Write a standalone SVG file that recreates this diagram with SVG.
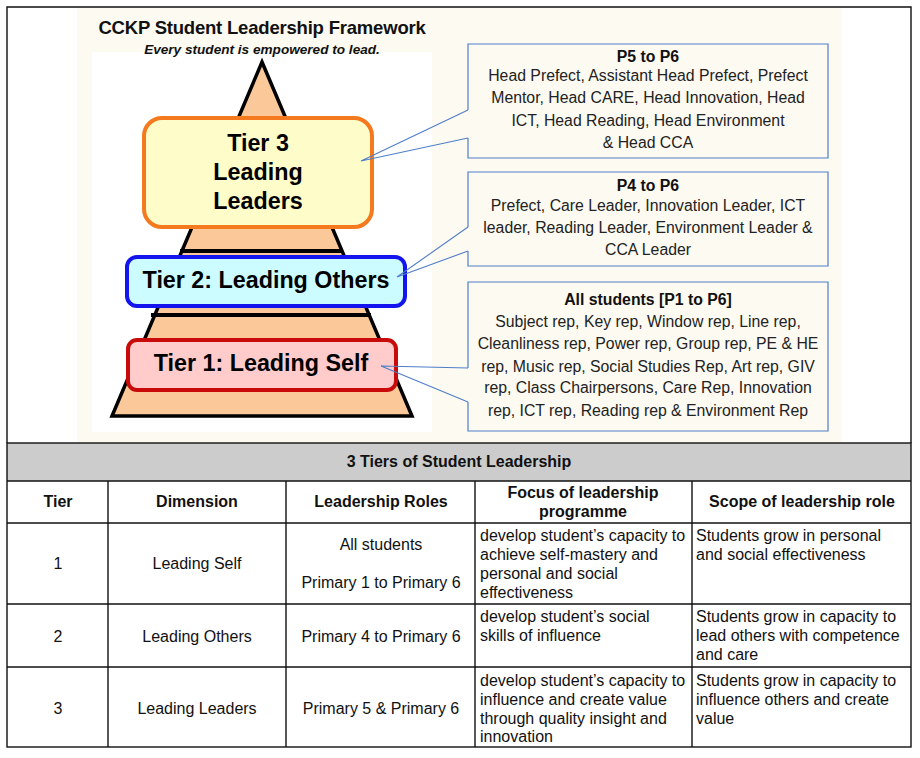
<svg xmlns="http://www.w3.org/2000/svg" width="920" height="758" viewBox="0 0 920 758">
  <style>
    text { font-family: "Liberation Sans", Arial, sans-serif; fill: #111; }
    .title { font-size: 18.5px; font-weight: bold; text-anchor: middle; letter-spacing: -0.2px; }
    .sub { font-size: 13.6px; font-weight: bold; font-style: italic; text-anchor: middle; }
    .tier { font-size: 23.3px; font-weight: bold; text-anchor: middle; fill: #000; }
    .co { font-size: 15.8px; text-anchor: middle; fill: #222; }
    .coh { font-size: 15.8px; font-weight: bold; text-anchor: middle; fill: #111; }
    .th { font-size: 16px; font-weight: bold; text-anchor: middle; }
    .td { font-size: 16px; text-anchor: middle; }
    .tl { font-size: 16px; }
    .callout { fill: #fdfaf2; stroke: #4f7ec8; stroke-width: 1.2; }
    .ptr { fill: none; stroke: #4f7ec8; stroke-width: 1.1; }
    .grid { stroke: #111; stroke-width: 1.4; fill: none; }
  </style>

  <!-- page background and frame -->
  <rect x="0" y="0" width="920" height="758" fill="#ffffff"/>
  <rect x="77" y="7" width="765" height="436" fill="#fdfaf2"/>
  <rect x="92" y="52" width="340" height="380" fill="#ffffff"/>
  <path d="M7,443 V7 H911 V443" class="grid"/>

  <!-- heading -->
  <g id="heading">
    <text class="title" x="262" y="34">CCKP Student Leadership Framework</text>
    <text class="sub" x="262" y="54">Every student is empowered to lead.</text>
  </g>

  <!-- pyramid with layer dividers -->
  <g id="pyramid">
    <polygon points="262,62 412,416 112,416" fill="#fbc999" stroke="#000" stroke-width="3.5" stroke-linejoin="miter"/>
    <line x1="180" y1="251" x2="343" y2="251" stroke="#000" stroke-width="4"/>
    <line x1="151" y1="315" x2="371" y2="315" stroke="#000" stroke-width="4"/>
  </g>

  <g id="tier3">
    <rect x="144" y="118" width="228" height="109" rx="18" fill="#fefdc9" stroke="#f57a1f" stroke-width="4"/>
    <text class="tier" x="258" y="151">Tier 3</text>
    <text class="tier" x="258" y="180">Leading</text>
    <text class="tier" x="258" y="209">Leaders</text>
  </g>

  <g id="tier2">
    <rect x="127" y="257" width="278" height="49" rx="10" fill="#ccfcff" stroke="#1414ee" stroke-width="4"/>
    <text class="tier" x="266" y="288">Tier 2: Leading Others</text>
  </g>

  <g id="tier1">
    <rect x="128" y="340" width="268" height="50" rx="9" fill="#ffcbcb" stroke="#c80a0a" stroke-width="4"/>
    <text class="tier" x="261" y="371">Tier 1: Leading Self</text>
  </g>

  <!-- callout boxes, left edge left open where the pointer leaves -->
  <g id="callout-p5-p6">
    <path class="callout" d="M468,110 V44 H828 V158 H468 V138"/>
    <text class="coh" x="648" y="62">P5 to P6</text>
    <text class="co" x="648" y="81">Head Prefect, Assistant Head Prefect, Prefect</text>
    <text class="co" x="648" y="103">Mentor, Head CARE, Head Innovation, Head</text>
    <text class="co" x="648" y="126">ICT, Head Reading, Head Environment</text>
    <text class="co" x="648" y="148">&amp; Head CCA</text>
  </g>

  <g id="callout-p4-p6">
    <path class="callout" d="M468,227 V172 H828 V266 H468 V251"/>
    <text class="coh" x="648" y="191">P4 to P6</text>
    <text class="co" x="648" y="211">Prefect, Care Leader, Innovation Leader, ICT</text>
    <text class="co" x="648" y="233">leader, Reading Leader, Environment Leader &amp;</text>
    <text class="co" x="648" y="255">CCA Leader</text>
  </g>

  <g id="callout-all">
    <path class="callout" d="M468,368 V282 H828 V431 H468 V402"/>
    <text class="coh" x="648" y="305">All students [P1 to P6]</text>
    <text class="co" x="648" y="327">Subject rep, Key rep, Window rep, Line rep,</text>
    <text class="co" x="648" y="349">Cleanliness rep, Power rep, Group rep, PE &amp; HE</text>
    <text class="co" x="648" y="372">rep, Music rep, Social Studies Rep, Art rep, GIV</text>
    <text class="co" x="648" y="393">rep, Class Chairpersons, Care Rep, Innovation</text>
    <text class="co" x="648" y="416">rep, ICT rep, Reading rep &amp; Environment Rep</text>
  </g>

  <!-- callout pointers -->
  <g id="connectors">
    <polyline class="ptr" points="468,110 361,161 468,138"/>
    <polyline class="ptr" points="468,227 397,277 468,251"/>
    <polyline class="ptr" points="468,368 381,366 468,402"/>
  </g>

  <!-- summary table -->
  <g id="table">
    <rect x="7" y="443" width="904" height="38" fill="#cccccc"/>
    <rect x="7" y="443" width="904" height="304" class="grid"/>
    <line class="grid" x1="7" y1="481" x2="911" y2="481"/>
    <line class="grid" x1="7" y1="523" x2="911" y2="523"/>
    <line class="grid" x1="7" y1="604" x2="911" y2="604"/>
    <line class="grid" x1="7" y1="667" x2="911" y2="667"/>
    <line class="grid" x1="108" y1="481" x2="108" y2="747"/>
    <line class="grid" x1="286" y1="481" x2="286" y2="747"/>
    <line class="grid" x1="475" y1="481" x2="475" y2="747"/>
    <line class="grid" x1="692" y1="481" x2="692" y2="747"/>

    <text class="th" x="459" y="467">3 Tiers of Student Leadership</text>

    <text class="th" x="58" y="507">Tier</text>
    <text class="th" x="197" y="507">Dimension</text>
    <text class="th" x="381" y="507">Leadership Roles</text>
    <text class="th" x="583" y="498">Focus of leadership</text>
    <text class="th" x="583" y="517">programme</text>
    <text class="th" x="802" y="507">Scope of leadership role</text>

    <!-- tier 1 -->
    <text class="td" x="58" y="569">1</text>
    <text class="td" x="197" y="569">Leading Self</text>
    <text class="td" x="381" y="550">All students</text>
    <text class="td" x="381" y="588">Primary 1 to Primary 6</text>
    <text class="tl" x="480" y="541">develop student’s capacity to</text>
    <text class="tl" x="480" y="560">achieve self-mastery and</text>
    <text class="tl" x="480" y="579">personal and social</text>
    <text class="tl" x="480" y="598">effectiveness</text>
    <text class="tl" x="696" y="541">Students grow in personal</text>
    <text class="tl" x="696" y="560">and social effectiveness</text>

    <!-- tier 2 -->
    <text class="td" x="58" y="642">2</text>
    <text class="td" x="197" y="642">Leading Others</text>
    <text class="td" x="381" y="642">Primary 4 to Primary 6</text>
    <text class="tl" x="480" y="622">develop student’s social</text>
    <text class="tl" x="480" y="641">skills of influence</text>
    <text class="tl" x="696" y="622">Students grow in capacity to</text>
    <text class="tl" x="696" y="641">lead others with competence</text>
    <text class="tl" x="696" y="660">and care</text>

    <!-- tier 3 -->
    <text class="td" x="58" y="714">3</text>
    <text class="td" x="197" y="714">Leading Leaders</text>
    <text class="td" x="381" y="714">Primary 5 &amp; Primary 6</text>
    <text class="tl" x="480" y="686">develop student’s capacity to</text>
    <text class="tl" x="480" y="705">influence and create value</text>
    <text class="tl" x="480" y="724">through quality insight and</text>
    <text class="tl" x="480" y="742">innovation</text>
    <text class="tl" x="696" y="686">Students grow in capacity to</text>
    <text class="tl" x="696" y="705">influence others and create</text>
    <text class="tl" x="696" y="724">value</text>
  </g>
</svg>
